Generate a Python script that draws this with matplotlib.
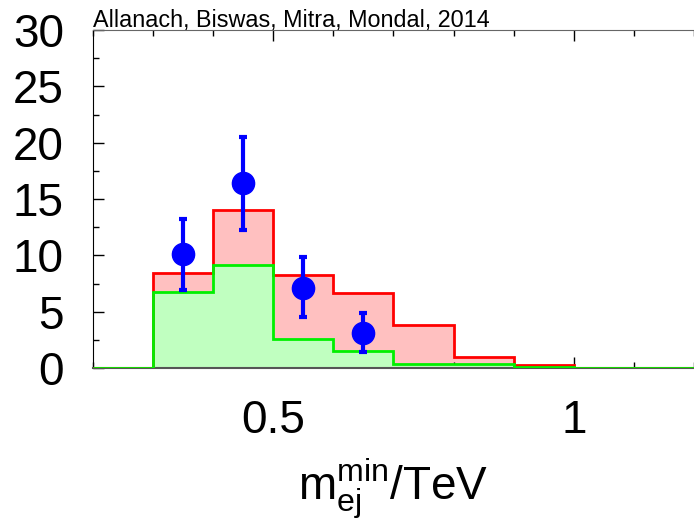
import matplotlib
matplotlib.use("Agg")
import matplotlib.pyplot as plt
import numpy as np

plt.rcParams['font.family'] = ['Liberation Sans', 'DejaVu Sans']
plt.rcParams['mathtext.fontset'] = 'custom'
plt.rcParams['mathtext.rm'] = 'Liberation Sans'
plt.rcParams['mathtext.it'] = 'Liberation Sans'

bin_edges = [0.2, 0.3, 0.4, 0.5, 0.6, 0.7, 0.8, 0.9, 1.0, 1.1, 1.2]
red_total = [0, 8.45, 14.0, 8.3, 6.7, 3.85, 1.0, 0.3, 0, 0]
green_bkg = [0, 6.8, 9.2, 2.55, 1.55, 0.4, 0.4, 0.12, 0, 0]

data_x = [0.35, 0.45, 0.55, 0.65]
data_y = [10.1, 16.4, 7.15, 3.15]
err_lo = [3.15, 4.1, 2.6, 1.7]
err_hi = [3.1, 4.1, 2.75, 1.75]

fig = plt.figure(figsize=(6.94, 5.20), dpi=100)
ax = fig.add_axes([0.134, 0.292, 0.866, 0.650])

ax.stairs(red_total, bin_edges, fill=True, color='#ffc0c0', zorder=1)
ax.stairs(green_bkg, bin_edges, fill=True, color='#c0ffc0', zorder=2)
ax.stairs(red_total, bin_edges, color='#ff0000', linewidth=2, zorder=3)
ax.stairs(green_bkg, bin_edges, color='#00f000', linewidth=2, zorder=4)

ax.errorbar(data_x, data_y, yerr=[err_lo, err_hi], fmt='o', color='#0000ff',
            markersize=16, elinewidth=3, capsize=3.2, capthick=3, zorder=5)

ax.set_xlim(0.2, 1.2)
ax.set_ylim(0, 30)
ax.set_xticks([0.5, 1.0])
ax.set_xticklabels(['0.5', '1'])
ax.set_xticks(np.arange(0.2, 1.21, 0.1), minor=True)
ax.set_yticks([0, 5, 10, 15, 20, 25, 30])
ax.set_yticks(np.arange(0, 30.1, 2.5), minor=True)
ax.tick_params(which='both', direction='in', top=True, right=False, labelsize=33)
ax.tick_params(which='major', length=8, width=1)
ax.tick_params(which='minor', length=4, width=1)
ax.tick_params(axis='y', pad=21)
ax.tick_params(axis='x', pad=22)
ax.spines['right'].set_visible(False)
ax.spines['top'].set_color('#666666')
ax.spines['bottom'].set_color('#555555')
ax.spines['bottom'].set_linewidth(1.5)

ax.set_xlabel(r'$\mathregular{m_{ej}^{min}}$/TeV', fontsize=33, labelpad=10)

fig.text(0.134, 0.948, 'Allanach, Biswas, Mitra, Mondal, 2014', fontsize=16.8,
         ha='left', va='baseline')

fig.savefig('out.png', dpi=100)
